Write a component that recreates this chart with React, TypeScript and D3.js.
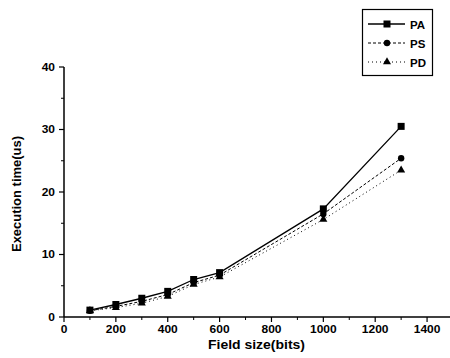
import React from "react";
import * as d3 from "d3";

const fieldSizes = [100, 200, 300, 400, 500, 600, 1000, 1300];
const paValues = [1.1, 2.0, 3.0, 4.1, 6.0, 7.1, 17.3, 30.5];
const psValues = [1.0, 1.7, 2.5, 3.6, 5.5, 6.7, 16.5, 25.4];
const pdValues = [1.0, 1.5, 2.2, 3.3, 5.2, 6.4, 15.6, 23.5];
const xTicks = [0, 200, 400, 600, 800, 1000, 1200, 1400];
const xMinor = [100, 300, 500, 700, 900, 1100, 1300];
const yTicks = [0, 10, 20, 30, 40];
const yMinor = [5, 15, 25, 35];
const seriesNames = ["PA", "PS", "PD"];

const W = 450, H = 358;
const x = d3.scaleLinear().domain([0, 1500]).range([64, 453]);
const y = d3.scaleLinear().domain([0, 40]).range([317, 67]);
const font = "'Liberation Sans', Arial, sans-serif";

type Marker = "square" | "circle" | "triangle";

function MarkerShape({ kind, cx, cy }: { kind: Marker; cx: number; cy: number }) {
  if (kind === "square") return <rect x={cx - 3.5} y={cy - 3.5} width={7} height={7} fill="#000" />;
  if (kind === "circle") return <circle cx={cx} cy={cy} r={3.2} fill="#000" />;
  const sym = d3.symbol(d3.symbolTriangle, 28)();
  return <path d={sym || ""} transform={`translate(${cx},${cy})`} fill="#000" />;
}

export default function App() {
  const series = [
    { name: seriesNames[0], values: paValues, dash: "", marker: "square" as Marker, width: 1.3 },
    { name: seriesNames[1], values: psValues, dash: "3,2", marker: "circle" as Marker, width: 1 },
    { name: seriesNames[2], values: pdValues, dash: "1,3", marker: "triangle" as Marker, width: 1 },
  ];
  const line = d3
    .line<number>()
    .x((_, i) => x(fieldSizes[i]))
    .y((v) => y(v));

  return (
    <svg width={W} height={H} style={{ position: "absolute", left: 0, top: 0, background: "#fff" }} fontFamily={font}>
      <rect width={W} height={H} fill="#fff" />
      {/* axes */}
      <line x1={x(0)} x2={x(1500)} y1={y(0)} y2={y(0)} stroke="#000" strokeWidth={1.5} />
      <line x1={x(0)} x2={x(0)} y1={y(0)} y2={y(40)} stroke="#000" strokeWidth={1.5} />
      {xTicks.map((t) => (
        <g key={"xt" + t}>
          <line x1={x(t)} x2={x(t)} y1={y(0)} y2={y(0) + 5} stroke="#000" strokeWidth={1.2} />
          <text transform={`translate(${x(t)},${y(0) + 16}) scale(1.2,1)`} textAnchor="middle" fontSize={10} fontWeight="bold">{t}</text>
        </g>
      ))}
      {xMinor.map((t) => (
        <line key={"xm" + t} x1={x(t)} x2={x(t)} y1={y(0)} y2={y(0) + 3} stroke="#000" strokeWidth={1} />
      ))}
      {yTicks.map((t) => (
        <g key={"yt" + t}>
          <line x1={x(0) - 5} x2={x(0)} y1={y(t)} y2={y(t)} stroke="#000" strokeWidth={1.2} />
          <text transform={`translate(${x(0) - 9},${y(t) + 3.5}) scale(1.2,1)`} textAnchor="end" fontSize={10} fontWeight="bold">{t}</text>
        </g>
      ))}
      {yMinor.map((t) => (
        <line key={"ym" + t} x1={x(0) - 3} x2={x(0)} y1={y(t)} y2={y(t)} stroke="#000" strokeWidth={1} />
      ))}
      {/* axis titles */}
      <text x={208} y={349} textLength={97} lengthAdjust="spacingAndGlyphs" fontSize={12} fontWeight="bold">Field size(bits)</text>
      <text transform={`translate(21,194) rotate(-90)`} x={-58} textLength={116} lengthAdjust="spacingAndGlyphs" fontSize={12.5} fontWeight="bold">Execution time(us)</text>
      {/* series */}
      {series.map((s) => (
        <g key={s.name}>
          <path d={line(s.values) || ""} fill="none" stroke="#000" strokeWidth={s.width} strokeDasharray={s.dash} />
          {s.values.map((v, i) => (
            <MarkerShape key={i} kind={s.marker} cx={x(fieldSizes[i])} cy={y(v)} />
          ))}
        </g>
      ))}
      {/* legend */}
      <rect x={362.5} y={9.5} width={70} height={66} fill="#fff" stroke="#000" strokeWidth={1.2} />
      {series.map((s, i) => {
        const ly = 24 + i * 19;
        return (
          <g key={"lg" + s.name}>
            <line x1={368} x2={405} y1={ly} y2={ly} stroke="#000" strokeWidth={s.width} strokeDasharray={s.dash} />
            <MarkerShape kind={s.marker} cx={387} cy={ly} />
            <text x={410} y={ly + 4.5} fontSize={11.5} fontWeight="bold">{s.name}</text>
          </g>
        );
      })}
    </svg>
  );
}
